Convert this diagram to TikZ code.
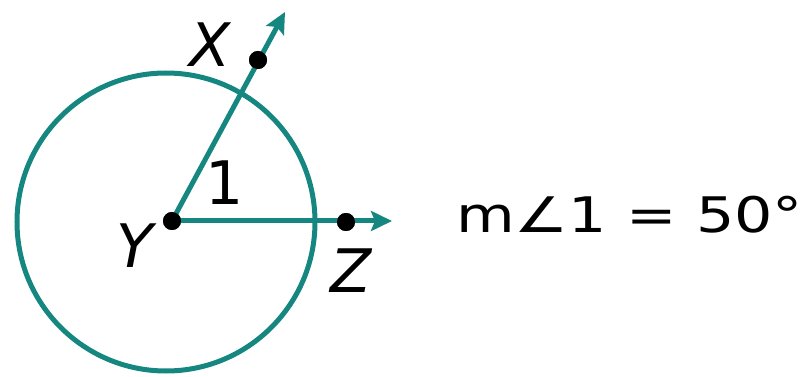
\documentclass[tikz,border=0pt]{standalone}
\usepackage{fontspec}
\setmainfont{DejaVu Sans}
\usetikzlibrary{arrows.meta}
\definecolor{teal1}{RGB}{22,135,128}
\begin{document}
\begin{tikzpicture}[x=1pt,y=-1pt,
  ray/.style={draw=teal1,line width=5pt,-{Stealth[length=21pt,width=20pt,inset=4pt]}},
  pt/.style={circle,fill=black,inner sep=0pt,minimum size=18pt},
  lbl/.style={inner sep=0pt,anchor=base,font=\fontsize{60}{60}\selectfont\itshape},
  num/.style={inner sep=0pt,anchor=base,font=\fontsize{60}{60}\selectfont}]
\useasboundingbox (0,0) rectangle (807,377);
\draw[teal1,line width=5pt] (166,222) circle[radius=149];
\coordinate (xend) at (285,12);
\coordinate (zend) at (392,221);
\node[pt] (Y) at (172,221) {};
\node[pt] (Xd) at (258,60) {};
\node[pt] (Zd) at (346,222) {};
\draw[ray] (Y.center) -- (xend);
\draw[ray] (Y.center) -- (zend);
\node[pt] at (Y) {};
\node[pt] at (Xd) {};
\node[pt] at (Zd) {};
\node[lbl] (Xl) at (210,67) {X};
\node[lbl] (Yl) at (135,268) {Y};
\node[lbl] (Zl) at (351,293) {Z};
\node[num] (one) at (225,205) {1};
\node[inner sep=0pt,anchor=base west,font=\fontsize{49}{49}\selectfont] (eq) at (456,233) {\scalebox{1.23}[1]{m∠1 = 50°}};
\end{tikzpicture}
\end{document}
